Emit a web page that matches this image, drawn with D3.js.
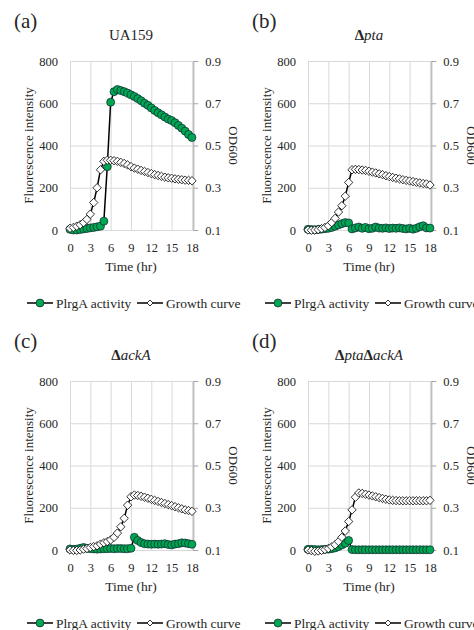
<!DOCTYPE html>
<html>
<head>
  <meta charset="utf-8">
  <script src="https://d3js.org/d3.v7.min.js"></script>
  <style>
    body { margin: 0; background: #fff; }
    #chart text { font-family: 'Liberation Serif', 'Times New Roman', serif !important; fill: #262626; }
    .grid line { stroke: #d9d9d9; stroke-width: 1; }
    .grid path { display: none; }
    .axis.left path, .axis.bottom path { display: none; }
    .axis.right path, .axis.right line { stroke: #a6a6a6; }
    .axis text { font-size: 12.5px; }
    .line { fill: none; stroke: #000; stroke-width: 1.5; }
  </style>
</head>
<body>
  <svg id="chart" width="474" height="630" font-family="Liberation Serif, serif"></svg>
  <script>
    // sampling times (hr)
    var hours = [0, 0.5, 1, 1.5, 2, 2.5, 3, 3.5, 4, 4.5, 5, 5.5, 6, 6.5, 7, 7.5, 8, 8.5, 9, 9.5,
      10, 10.5, 11, 11.5, 12, 12.5, 13, 13.5, 14, 14.5, 15, 15.5, 16, 16.5, 17, 17.5, 18];

    var fluorTicks = [0, 200, 400, 600, 800];
    var odTicks = [0.1, 0.3, 0.5, 0.7, 0.9];
    var hourTicks = [0, 3, 6, 9, 12, 15, 18];

    var seriesNames = ['PlrgA activity', 'Growth curve'];
    var panelLabels = ['(a)', '(b)', '(c)', '(d)'];

    // UA159
    var uaFluor = [3, 0, 0, 2, 5, 7, 10, 12, 15, 18, 42, 300, 605, 655, 665, 660, 655, 648, 640, 632,
      622, 612, 600, 590, 578, 566, 555, 545, 535, 525, 518, 508, 495, 482, 468, 452, 438];
    var uaOd = [0.108, 0.112, 0.118, 0.125, 0.135, 0.15, 0.175, 0.23, 0.3, 0.385, 0.425, 0.43, 0.43, 0.428, 0.425, 0.42, 0.415, 0.408, 0.4, 0.393,
      0.388, 0.382, 0.377, 0.372, 0.367, 0.362, 0.358, 0.354, 0.35, 0.347, 0.345, 0.342, 0.34, 0.338, 0.336, 0.335, 0.333];

    // delta pta
    var ptaFluor = [3, 2, 1, 2, 4, 6, 8, 12, 18, 24, 30, 35, 33, 5, 10, 14, 8, 12, 6, 8,
      14, 9, 8, 10, 7, 9, 8, 10, 7, 5, 8, 4, 8, 15, 20, 10, 9];
    var ptaOd = [0.1, 0.099, 0.1, 0.102, 0.106, 0.112, 0.12, 0.135, 0.155, 0.185, 0.215, 0.26, 0.325, 0.385, 0.387, 0.386, 0.384, 0.382, 0.378, 0.374,
      0.37, 0.366, 0.362, 0.357, 0.353, 0.349, 0.345, 0.342, 0.338, 0.335, 0.332, 0.329, 0.326, 0.323, 0.32, 0.318, 0.313];

    // delta ackA
    var ackFluor = [5, 3, 4, 8, 12, 8, 6, 5, 4, 5, 6, 6, 7, 6, 7, 7, 6, 6, 8, 60,
      45, 35, 30, 28, 27, 28, 27, 28, 30, 26, 24, 28, 30, 34, 33, 30, 27];
    var ackOd = [0.1, 0.098, 0.098, 0.1, 0.104, 0.107, 0.112, 0.116, 0.12, 0.128, 0.134, 0.14, 0.148, 0.16, 0.18, 0.21, 0.25, 0.312, 0.352, 0.36,
      0.358, 0.354, 0.35, 0.345, 0.34, 0.335, 0.33, 0.325, 0.32, 0.315, 0.31, 0.305, 0.3, 0.295, 0.29, 0.287, 0.283];

    // delta pta delta ackA
    var dblFluor = [3, 3, 2, 1, 2, 3, 4, 6, 10, 16, 24, 32, 45, 2, 1, 1, 1, 1, 1, 1,
      1, 1, 1, 1, 1, 1, 1, 1, 1, 1, 1, 1, 1, 1, 1, 1, 1];
    var dblOd = [0.1, 0.097, 0.094, 0.095, 0.098, 0.102, 0.107, 0.115, 0.125, 0.14, 0.16, 0.19, 0.235, 0.29, 0.35, 0.37, 0.368, 0.364, 0.36, 0.356,
      0.352, 0.348, 0.344, 0.34, 0.337, 0.335, 0.334, 0.333, 0.333, 0.333, 0.333, 0.333, 0.333, 0.333, 0.333, 0.333, 0.335];

    var panels = [
      { label: panelLabels[0], title: [['UA159', 'normal', 'normal']], fluor: uaFluor, od: uaOd, dx: 0, dy: 0 },
      { label: panelLabels[1], title: [['\u0394', 'bold', 'normal'], ['pta', 'normal', 'italic']], fluor: ptaFluor, od: ptaOd, dx: 238, dy: 0 },
      { label: panelLabels[2], title: [['\u0394', 'bold', 'normal'], ['ackA', 'normal', 'italic']], fluor: ackFluor, od: ackOd, dx: 0, dy: 320 },
      { label: panelLabels[3], title: [['\u0394', 'bold', 'normal'], ['pta', 'normal', 'italic'], ['\u0394', 'bold', 'normal'], ['ackA', 'normal', 'italic']], fluor: dblFluor, od: dblOd, dx: 238, dy: 320 }
    ];

    var chart = d3.select('#chart');
    var plot = { left: 70, right: 193.3, top: 61, bottom: 230 };
    var green = '#00a650';
    var diamond = (r) => 'M0,' + (-r) + 'L' + r + ',0L0,' + r + 'L' + (-r) + ',0Z';

    var x = d3.scaleLinear().domain([0, 18.2]).range([plot.left, plot.right]);
    var yF = d3.scaleLinear().domain([0, 800]).range([plot.bottom, plot.top]);
    var yOd = d3.scaleLinear().domain([0.1, 0.9]).range([plot.bottom, plot.top]);

    panels.forEach((p) => {
      var g = chart.append('g').attr('transform', 'translate(' + p.dx + ',' + p.dy + ')');

      g.append('text').attr('x', 14).attr('y', 28).style('font-size', '21px').text(p.label);

      var title = g.append('text').attr('x', 131).attr('y', 40)
        .attr('text-anchor', 'middle').style('font-size', '15px');
      p.title.forEach((t) => {
        title.append('tspan').style('font-weight', t[1]).style('font-style', t[2]).text(t[0]);
      });

      // gridlines
      g.append('g').attr('class', 'grid')
        .attr('transform', 'translate(' + plot.left + ',0)')
        .call(d3.axisLeft(yF).tickValues(fluorTicks).tickSize(-(plot.right - plot.left)).tickFormat(''));
      g.append('g').attr('class', 'grid')
        .attr('transform', 'translate(0,' + plot.bottom + ')')
        .call(d3.axisBottom(x).tickValues(hourTicks).tickSize(-(plot.bottom - plot.top)).tickFormat(''));

      g.append('g').attr('class', 'axis left')
        .attr('transform', 'translate(' + plot.left + ',0)')
        .call(d3.axisLeft(yF).tickValues(fluorTicks).tickSize(0).tickPadding(12));

      g.append('g').attr('class', 'axis bottom')
        .attr('transform', 'translate(0,' + plot.bottom + ')')
        .call(d3.axisBottom(x).tickValues(hourTicks).tickSize(0).tickPadding(13));

      g.append('g').attr('class', 'axis right')
        .attr('transform', 'translate(' + plot.right + ',0)')
        .call(d3.axisRight(yOd).tickValues(odTicks).tickSize(5).tickSizeOuter(0).tickPadding(7).tickFormat(d3.format('.1f')));

      g.selectAll('.axis').attr('font-family', null);

      g.append('text')
        .attr('transform', 'translate(33,' + (plot.top + plot.bottom) / 2 + ') rotate(-90)')
        .attr('text-anchor', 'middle').style('font-size', '13px')
        .text('Fluorescence intensity');

      g.append('text')
        .attr('transform', 'translate(229,' + (plot.top + plot.bottom) / 2 + ') rotate(90)')
        .attr('text-anchor', 'middle').style('font-size', '13px')
        .text('OD600');

      g.append('text').attr('x', 131).attr('y', 271)
        .attr('text-anchor', 'middle').style('font-size', '13.5px')
        .text('Time (hr)');

      var fPts = hours.map((h, i) => [h, p.fluor[i]]);
      var oPts = hours.map((h, i) => [h, p.od[i]]);

      g.append('path').datum(fPts).attr('class', 'line')
        .attr('d', d3.line().x((d) => x(d[0])).y((d) => yF(d[1])));
      g.selectAll('circle.pt').data(fPts).join('circle')
        .attr('class', 'pt')
        .attr('cx', (d) => x(d[0])).attr('cy', (d) => yF(d[1])).attr('r', 4)
        .attr('fill', green).attr('stroke', '#123').attr('stroke-width', 0.7);

      g.append('path').datum(oPts).attr('class', 'line')
        .attr('d', d3.line().x((d) => x(d[0])).y((d) => yOd(d[1])));
      g.selectAll('path.dm').data(oPts).join('path')
        .attr('class', 'dm')
        .attr('transform', (d) => 'translate(' + x(d[0]) + ',' + yOd(d[1]) + ')')
        .attr('d', diamond(4.2))
        .attr('fill', '#fff').attr('stroke', '#000').attr('stroke-width', 0.8);

      // legend
      var ly = 303;
      var leg = g.append('g');
      leg.append('line').attr('x1', 27).attr('x2', 53).attr('y1', ly).attr('y2', ly)
        .attr('stroke', '#000').attr('stroke-width', 1.5);
      leg.append('circle').attr('cx', 40).attr('cy', ly).attr('r', 4)
        .attr('fill', green).attr('stroke', '#123').attr('stroke-width', 0.7);
      leg.append('text').attr('x', 56).attr('y', ly + 4.5).style('font-size', '13.5px').text(seriesNames[0]);
      leg.append('line').attr('x1', 137).attr('x2', 163).attr('y1', ly).attr('y2', ly)
        .attr('stroke', '#000').attr('stroke-width', 1.5);
      leg.append('path').attr('transform', 'translate(150,' + ly + ')').attr('d', diamond(3))
        .attr('fill', '#fff').attr('stroke', '#000').attr('stroke-width', 0.8);
      leg.append('text').attr('x', 166).attr('y', ly + 4.5).style('font-size', '13.5px').text(seriesNames[1]);
    });
  </script>
</body>
</html>
